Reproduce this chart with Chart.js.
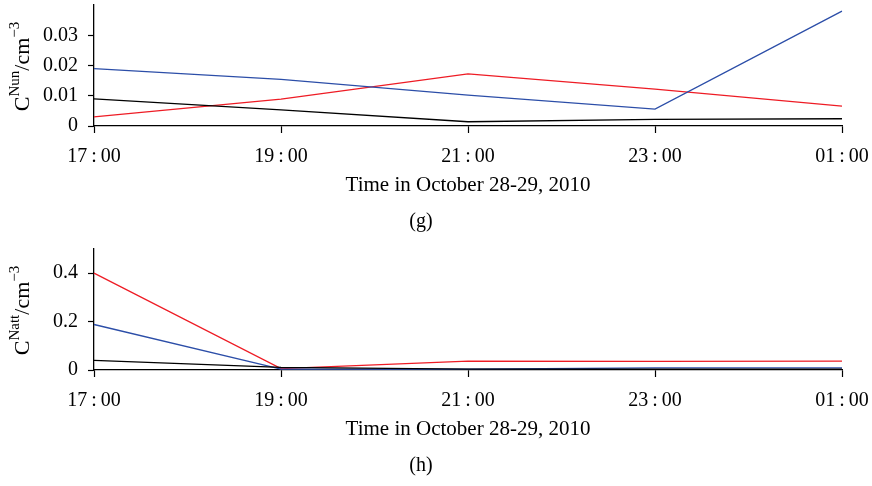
<!DOCTYPE html>
<html>
<head>
<meta charset="utf-8">
<script src="https://cdn.jsdelivr.net/npm/chart.js@4.4.0/dist/chart.umd.min.js"></script>
<style>
  html, body { margin: 0; padding: 0; background: #fff; }
  .panel { position: absolute; left: 0; width: 872px; height: 244px; }
  #panel-g { top: 0; }
  #panel-h { top: 244px; }
</style>
</head>
<body>
<div class="panel" id="panel-g"><canvas id="chartG"></canvas></div>
<div class="panel" id="panel-h"><canvas id="chartH"></canvas></div>
<script>
  const times = ['17:00', '19:00', '21:00', '23:00', '01:00'];

  // (g) C^Nun
  const nunBlue = [0.019, 0.0154, 0.0102, 0.0056, 0.038];
  const nunRed = [0.003, 0.0089, 0.0172, 0.0122, 0.0066];
  const nunBlack = [0.009, 0.0053, 0.0014, 0.0022, 0.0024];
  const nunTicks = [0, 0.01, 0.02, 0.03];

  // (h) C^Natt
  const nattBlue = [0.188, 0.004, 0.003, 0.009, 0.009];
  const nattRed = [0.40, 0.006, 0.037, 0.036, 0.037];
  const nattBlack = [0.04, 0.011, 0.004, 0.004, 0.004];
  const nattTicks = [0, 0.2, 0.4];

  const SERIF = '"Liberation Serif", "DejaVu Serif", serif';
  const BLUE = '#2c4ea8';
  const RED = '#ee1c25';

  // rotated y title with superscripts, e.g. C^Nun/cm^-3
  const yTitlePlugin = {
    id: 'yTitle',
    afterDraw(chart, args, opts) {
      const { ctx, chartArea } = chart;
      const parts = opts.parts;
      const big = '22px ' + SERIF, small = '15px ' + SERIF;
      ctx.save();
      let total = 0;
      parts.forEach(p => { ctx.font = p.sup ? small : big; total += ctx.measureText(p.t).width; });
      ctx.translate(29, (chartArea.top + chartArea.bottom) / 2 + 1);
      ctx.rotate(-Math.PI / 2);
      ctx.fillStyle = '#000';
      ctx.textBaseline = 'alphabetic';
      let x = -total / 2;
      parts.forEach(p => {
        ctx.font = p.sup ? small : big;
        ctx.fillText(p.t, x, p.sup ? -10 : 0);
        x += ctx.measureText(p.t).width;
      });
      ctx.restore();
    }
  };

  function makeChart(id, series, yMax, yTicks, titleParts, caption) {
    return new Chart(document.getElementById(id), {
      type: 'line',
      data: {
        labels: times,
        datasets: [
          { data: series[0], borderColor: '#000' },
          { data: series[1], borderColor: BLUE },
          { data: series[2], borderColor: RED }
        ].map(d => Object.assign(d, { borderWidth: 1.3, pointRadius: 0, tension: 0, fill: false }))
      },
      options: {
        responsive: true,
        maintainAspectRatio: false,
        animation: false,
        layout: { padding: { top: 5, right: 30, left: 0, bottom: 0 } },
        plugins: {
          legend: { display: false },
          tooltip: { enabled: false },
          title: {
            display: true, position: 'bottom', text: caption, color: '#000',
            font: { family: SERIF, size: 20, weight: 'normal' },
            padding: { top: 0, bottom: 10 }
          },
          yTitle: { parts: titleParts }
        },
        scales: {
          x: {
            grid: { drawOnChartArea: false, color: '#000', tickLength: 7, tickWidth: 1.2 },
            border: { display: true, color: '#000', width: 1.3 },
            ticks: {
              color: '#000', padding: 12, maxRotation: 0, autoSkip: false,
              font: { family: SERIF, size: 20 },
              callback: (v, i) => times[i].replace(':', '\u2009:\u2009')
            },
            title: {
              display: true, text: 'Time in October 28-29, 2010', color: '#000',
              font: { family: SERIF, size: 21 }, padding: { top: 0, bottom: 12 }
            },
            afterFit: s => { s.height = 84; s.paddingLeft = 0; s.paddingRight = 0; }
          },
          y: {
            min: 0, max: yMax,
            grid: { drawOnChartArea: false, color: '#000', tickLength: 6, tickWidth: 1.2 },
            border: { display: true, color: '#000', width: 1.3 },
            ticks: { color: '#000', padding: 10, font: { family: SERIF, size: 20 } },
            afterBuildTicks: s => { s.ticks = yTicks.map(v => ({ value: v })); },
            afterFit: s => { s.width = 94; s.paddingTop = 0; s.paddingBottom = 0; }
          }
        }
      },
      plugins: [yTitlePlugin]
    });
  }

  makeChart('chartG', [nunBlack, nunBlue, nunRed], 0.04, nunTicks,
    [{ t: 'C' }, { t: 'Nun', sup: true }, { t: '/cm' }, { t: '\u22123', sup: true }], '(g)');
  makeChart('chartH', [nattBlack, nattBlue, nattRed], 0.5, nattTicks,
    [{ t: 'C' }, { t: 'Natt', sup: true }, { t: '/cm' }, { t: '\u22123', sup: true }], '(h)');
</script>
</body>
</html>
